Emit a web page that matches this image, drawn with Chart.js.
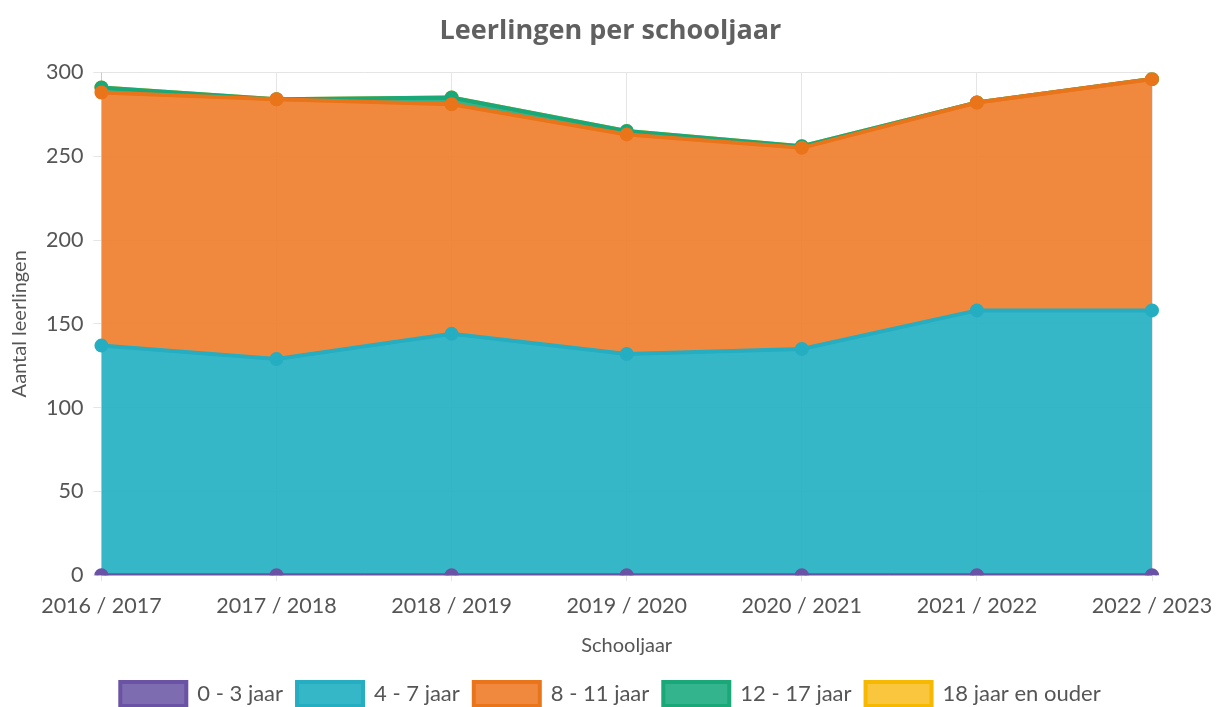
<!DOCTYPE html>
<html>
<head>
<meta charset="utf-8">
<script src="https://cdn.jsdelivr.net/npm/chart.js@4"></script>
<style>
  html, body { margin: 0; padding: 0; background: #fff; }
  #wrap { width: 1217px; height: 707px; }
</style>
</head>
<body>
<div id="wrap"><canvas id="chart"></canvas></div>
<script>
// Data
const schoolYears = ['2016 / 2017', '2017 / 2018', '2018 / 2019', '2019 / 2020', '2020 / 2021', '2021 / 2022', '2022 / 2023'];
const age0to3 = [0, 0, 0, 0, 0, 0, 0];
const age4to7 = [137, 129, 144, 132, 135, 158, 158];
const age8to11 = [151, 155, 137, 131, 120, 124, 138];
const age12to17 = [3, 0, 4, 2, 1, 0, 0];
const age18plus = [0, 0, 0, 0, 0, 0, 0];

Chart.defaults.font.family = 'Lato, "Open Sans", sans-serif';
Chart.defaults.color = '#666';

function series(label, data, fill, border, fillTo) {
  return {
    label: label,
    data: data,
    fill: fillTo,
    backgroundColor: fill,
    borderColor: border,
    borderWidth: 4,
    pointRadius: 5,
    pointBackgroundColor: border,
    pointBorderColor: border,
    tension: 0
  };
}

// pull the legend a bit closer to the bottom edge
const legendShift = {
  id: 'legendShift',
  beforeInit(chart) {
    const origFit = chart.legend.fit;
    chart.legend.fit = function () {
      origFit.call(this);
      this.height -= 9;
    };
  }
};

const ctx = document.getElementById('chart').getContext('2d');
new Chart(ctx, {
  type: 'line',
  data: {
    labels: schoolYears,
    datasets: [
      series('0 - 3 jaar', age0to3, 'rgba(112, 92, 168, 0.9)', '#6a52a4', 'origin'),
      series('4 - 7 jaar', age4to7, 'rgba(32, 175, 194, 0.9)', '#25adc2', '-1'),
      series('8 - 11 jaar', age8to11, 'rgba(238, 124, 40, 0.9)', '#ea7419', '-1'),
      series('12 - 17 jaar', age12to17, 'rgba(30, 172, 128, 0.9)', '#1aa878', '-1'),
      series('18 jaar en ouder', age18plus, 'rgba(248, 192, 40, 0.9)', '#f6b800', '-1')
    ]
  },
  plugins: [legendShift],
  options: {
    responsive: true,
    maintainAspectRatio: false,
    animation: false,
    layout: { padding: { left: 4, right: 0, top: 4, bottom: 0 } },
    plugins: {
      title: {
        display: true,
        text: 'Leerlingen per schooljaar',
        font: { family: '"Open Sans", sans-serif', size: 27, weight: 'bold' },
        color: '#606060',
        padding: { top: 11, bottom: 25 }
      },
      legend: {
        position: 'bottom',
        labels: {
          boxWidth: 66,
          boxHeight: 24,
          padding: 14,
          font: { size: 22 },
          color: '#555'
        }
      },
      tooltip: { enabled: false }
    },
    scales: {
      x: {
        afterFit: (scale) => { scale.paddingRight = 65; },
        grid: { color: '#e5e5e5', drawTicks: true, tickLength: 6 },
        ticks: { font: { size: 21.5 }, color: '#555', maxRotation: 0, padding: 12 },
        title: { display: true, text: 'Schooljaar', font: { size: 20 }, color: '#555', padding: { top: 3, bottom: 10 } }
      },
      y: {
        stacked: true,
        min: 0,
        max: 300,
        grid: { color: '#e5e5e5', tickLength: 8 },
        ticks: { stepSize: 50, font: { size: 21.5 }, color: '#555', padding: 10 },
        title: { display: true, text: 'Aantal leerlingen', font: { size: 20 }, color: '#555' }
      }
    }
  }
});
</script>
</body>
</html>
